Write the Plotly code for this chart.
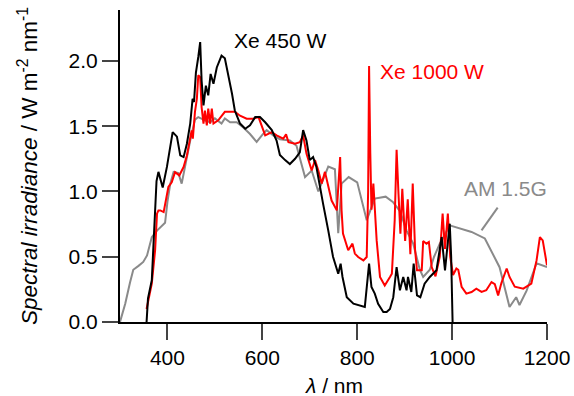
import plotly.graph_objects as go

# AM 1.5G reference spectrum (gray)
am_wl = [300, 311, 321, 328, 339, 349, 357, 367, 378, 384, 395, 400, 406, 413, 423, 430, 437, 448, 458, 465,
         479, 490, 500, 514, 521, 532, 546, 560, 574, 588, 599, 609, 623, 637, 658, 672, 690, 704, 718, 739,
         753, 760, 767, 782, 800, 820, 837, 860, 875, 890, 904, 918, 932, 939, 953, 962, 974, 995, 1041, 1069,
         1100, 1121, 1135, 1142, 1157, 1178, 1200]
am_val = [0.0, 0.14, 0.30, 0.40, 0.43, 0.46, 0.51, 0.65, 0.70, 0.72, 0.76, 0.92, 1.06, 1.15, 1.14, 1.06, 1.19, 1.39, 1.55, 1.57,
          1.545, 1.53, 1.56, 1.52, 1.56, 1.53, 1.53, 1.49, 1.44, 1.38, 1.43, 1.47, 1.43, 1.40, 1.39, 1.35, 1.11, 1.16, 1.00, 1.19,
          1.17, 0.68, 1.06, 1.11, 1.07, 0.78, 0.945, 0.96, 0.92, 0.85, 0.70, 0.60, 0.40, 0.345, 0.40, 0.50, 0.60, 0.74, 0.69, 0.64,
          0.42, 0.115, 0.19, 0.13, 0.24, 0.45, 0.42]

# Xe 450 W lamp (black)
xe450_wl = [356, 359, 367, 372, 377, 381, 390, 399, 411, 420, 427, 434, 441, 448, 453, 456, 460, 465, 469, 472,
            476, 481, 486, 491, 497, 504, 514, 521, 528, 536, 542, 553, 564, 574, 585, 595, 606, 620, 630, 637,
            648, 658, 669, 679, 686, 693, 700, 707, 714, 721, 728, 739, 749, 760, 765, 769, 778, 792, 806, 816,
            825, 830, 837, 844, 855, 862, 869, 876, 883, 890, 897, 904, 907, 914, 919, 926, 933, 942, 953, 967,
            978, 985, 995, 998, 1001]
xe450_val = [0.0, 0.18, 0.32, 0.65, 1.08, 1.15, 1.03, 1.19, 1.455, 1.42, 1.276, 1.263, 1.366, 1.52, 1.71, 1.685, 1.91, 2.03, 2.144, 1.85,
             1.66, 1.81, 1.736, 1.90, 1.825, 1.95, 2.04, 2.02, 1.90, 1.75, 1.62, 1.52, 1.48, 1.506, 1.57, 1.57, 1.53, 1.47, 1.39, 1.28,
             1.24, 1.21, 1.25, 1.30, 1.47, 1.39, 1.24, 1.263, 1.187, 1.034, 0.907, 0.70, 0.50, 0.37, 0.447, 0.345, 0.19, 0.14, 0.128, 0.115,
             0.447, 0.268, 0.217, 0.14, 0.077, 0.077, 0.10, 0.19, 0.42, 0.243, 0.345, 0.243, 0.345, 0.23, 0.447, 0.204, 0.19, 0.294, 0.345, 0.396,
             0.65, 0.396, 0.753, 0.50, 0.0]

# Xe 1000 W lamp (red)
xe1000_wl = [356, 367, 374, 378, 381, 385, 392, 402, 409, 416, 425, 434, 441, 446, 451, 453.5, 458, 462, 465, 469,
             472, 476, 479, 483, 486, 490, 493.5, 497, 507, 521, 532, 542, 553, 567, 581, 592, 606, 620, 630, 644,
             650, 655, 669, 679, 686, 693, 704, 711, 718, 725, 732, 739, 746, 757, 764, 767, 770, 781, 790, 795,
             802, 813, 820, 823, 825, 827.5, 830, 834, 836, 841, 848, 858, 869, 873, 879, 883, 887, 891, 895, 901,
             906.5, 912, 917, 922, 926, 936, 939, 946, 951, 957, 965, 974, 980, 985, 991, 996, 1002, 1009, 1013, 1020,
             1030, 1041, 1051, 1062, 1072, 1083, 1090, 1097, 1104, 1115, 1121, 1132, 1150, 1167, 1178, 1185, 1191, 1200]
xe1000_val = [0.10, 0.294, 0.55, 0.83, 0.855, 0.855, 0.842, 1.034, 1.07, 1.148, 1.123, 1.187, 1.276, 1.39, 1.468, 1.404, 1.61, 1.71, 1.89, 1.876,
              1.646, 1.52, 1.62, 1.506, 1.634, 1.52, 1.634, 1.52, 1.545, 1.61, 1.61, 1.61, 1.58, 1.557, 1.557, 1.57, 1.43, 1.455, 1.43, 1.404,
              1.437, 1.378, 1.366, 1.378, 1.43, 1.29, 1.16, 1.24, 1.16, 1.06, 1.15, 1.034, 0.93, 0.855, 1.263, 0.855, 0.677, 0.55, 0.60, 0.524,
              0.498, 0.472, 0.498, 1.0, 1.96, 1.3, 0.86, 1.06, 0.9, 0.625, 0.345, 0.28, 0.345, 0.37, 0.78, 1.32, 0.98, 0.677, 1.02, 0.62,
              0.94, 0.52, 1.06, 0.55, 0.396, 0.396, 0.62, 0.60, 0.613, 0.42, 0.35, 0.50, 0.83, 0.56, 0.83, 0.50, 0.36, 0.41, 0.40, 0.27,
              0.217, 0.23, 0.255, 0.23, 0.243, 0.306, 0.29, 0.204, 0.30, 0.41, 0.345, 0.27, 0.255, 0.294, 0.472, 0.65, 0.625, 0.434]

x_ticks = [400, 600, 800, 1000, 1200]
y_ticks = [0.0, 0.5, 1.0, 1.5, 2.0]
y_tick_text = ["0.0", "0.5", "1.0", "1.5", "2.0"]

GRAY = "#8a8a8a"
FONT = "Liberation Sans, Arial, sans-serif"
FS = 21

fig = go.Figure()
fig.add_trace(go.Scatter(x=am_wl, y=am_val, mode="lines", line=dict(color=GRAY, width=2), name="AM 1.5G"))
fig.add_trace(go.Scatter(x=xe1000_wl, y=xe1000_val, mode="lines", line=dict(color="#ff0000", width=2), name="Xe 1000 W"))
fig.add_trace(go.Scatter(x=xe450_wl, y=xe450_val, mode="lines", line=dict(color="black", width=2), name="Xe 450 W"))

fig.update_layout(
    width=574, height=396,
    margin=dict(l=120, r=27, t=10, b=74),
    paper_bgcolor="white", plot_bgcolor="white",
    showlegend=False,
    font=dict(family=FONT, size=FS, color="black"),
    xaxis=dict(range=[300, 1200], tickvals=x_ticks, ticks="outside", ticklen=16, tickwidth=2,
               showline=True, linecolor="black", linewidth=2, showgrid=False, zeroline=False,
               tickfont=dict(size=FS), automargin=False),
    yaxis=dict(range=[0, 2.39], tickvals=y_ticks, ticktext=y_tick_text, ticks="outside", ticklen=16, tickwidth=2,
               showline=True, linecolor="black", linewidth=2, showgrid=False, zeroline=False,
               tickfont=dict(size=FS), automargin=False),
)

fig.add_annotation(text="Xe 450 W", x=536, y=2.157, xref="x", yref="y", xanchor="left", yanchor="middle",
                   showarrow=False, font=dict(color="black", size=FS))
fig.add_annotation(text="Xe 1000 W", x=844, y=1.92, xref="x", yref="y", xanchor="left", yanchor="middle",
                   showarrow=False, font=dict(color="#ff0000", size=FS))
fig.add_annotation(text="AM 1.5G", x=1020, y=1.022, xref="x", yref="y", xanchor="left", yanchor="middle",
                   showarrow=False, font=dict(color=GRAY, size=FS))
fig.add_shape(type="line", x0=1096, y0=0.876, x1=1062, y1=0.702, xref="x", yref="y",
              line=dict(color=GRAY, width=2))

fig.add_annotation(text="<i>λ</i> / nm", x=0.5, y=0, xref="paper", yref="paper", xanchor="center",
                   yanchor="middle", yshift=-63, showarrow=False, font=dict(size=FS))
fig.add_annotation(text="<i>Spectral irradiance</i> / W m<sup>-2</sup> nm<sup>-1</sup>", x=0, y=0.5,
                   xref="paper", yref="paper", xanchor="center", yanchor="middle", xshift=-92,
                   textangle=-90, showarrow=False, font=dict(size=22.5))

fig.write_html("out.html")
